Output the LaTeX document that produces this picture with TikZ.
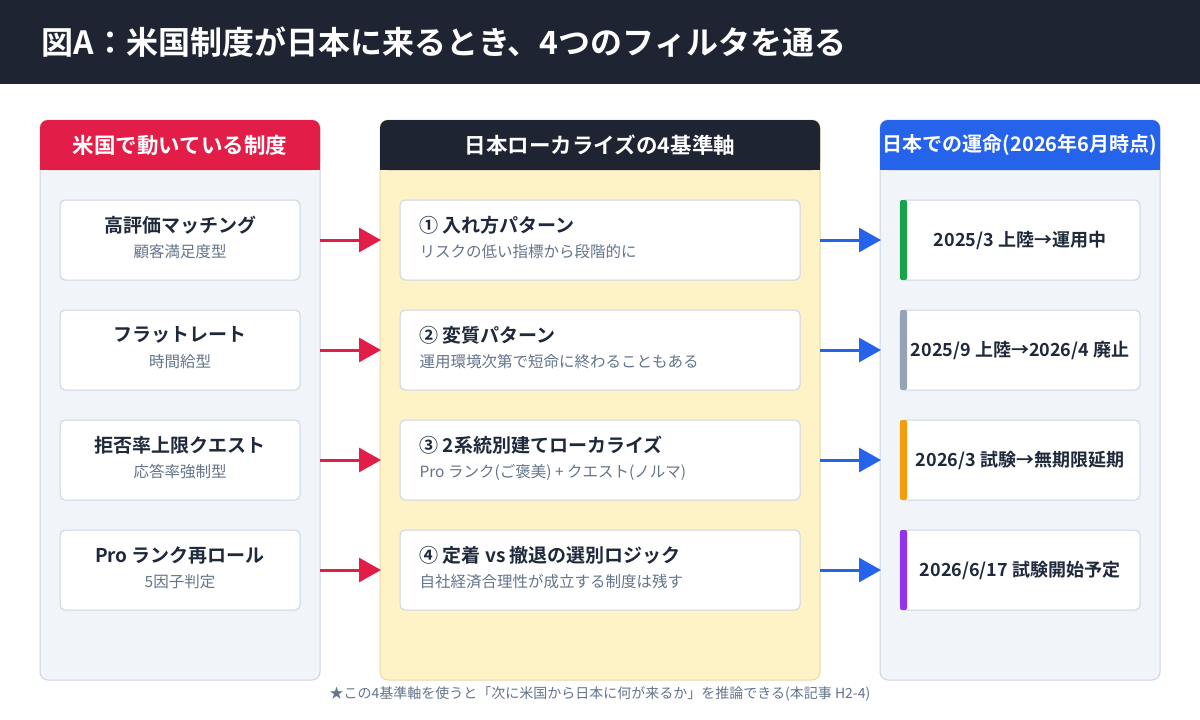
\documentclass[tikz,border=0pt]{standalone}
\usepackage{fontspec}
\setmainfont{Noto Sans CJK JP}[BoldFont={* Bold}]
\usetikzlibrary{arrows.meta}
\definecolor{navy}{HTML}{1F2433}
\definecolor{rd}{HTML}{E11D48}
\definecolor{bl}{HTML}{2563EB}
\definecolor{pbg}{HTML}{F1F5F9}
\definecolor{pbd}{HTML}{CBD5E1}
\definecolor{yel}{HTML}{FEF3C7}
\definecolor{ybd}{HTML}{E7D9A8}
\definecolor{sub}{HTML}{64748B}
\definecolor{ttl}{HTML}{1E293B}
\definecolor{gr}{HTML}{16A34A}
\definecolor{gy}{HTML}{94A3B8}
\definecolor{og}{HTML}{F59E0B}
\definecolor{pu}{HTML}{9333EA}
\begin{document}
\begin{tikzpicture}[x=1pt,y=-1pt,
 card/.style={draw=pbd,fill=white,rounded corners=5pt,line width=1pt},
 ctitle/.style={font=\bfseries\fontsize{19}{21}\selectfont,text=ttl},
 csub/.style={font=\fontsize{15.5}{17}\selectfont,text=sub},
 hdr/.style={font=\bfseries\fontsize{21.5}{24}\selectfont,text=white},
 rarr/.style={draw=rd,line width=3pt,-{Triangle[length=22pt,width=24pt]}},
 barr/.style={draw=bl,line width=3pt,-{Triangle[length=22pt,width=24pt]}}]
\useasboundingbox (0,0) rectangle (1200,720);
\fill[white] (0,0) rectangle (1200,720);
\fill[navy] (0,0) rectangle (1200,84);
\node[anchor=west,text=white,font=\bfseries\fontsize{32}{36}\selectfont] (title) at (38,42) {図A：米国制度が日本に来るとき、4つのフィルタを通る};
% panels
\draw[draw=pbd,fill=pbg,rounded corners=8pt,line width=1pt] (40,120) rectangle (320,680);
\draw[draw=ybd,fill=yel,rounded corners=8pt,line width=1pt] (380,120) rectangle (820,680);
\draw[draw=pbd,fill=pbg,rounded corners=8pt,line width=1pt] (880,120) rectangle (1160,680);
\fill[rd,rounded corners=8pt] (40,120) rectangle (320,170); \fill[rd] (40,150) rectangle (320,170);
\fill[navy,rounded corners=8pt] (380,120) rectangle (820,170); \fill[navy] (380,150) rectangle (820,170);
\fill[bl,rounded corners=8pt] (880,120) rectangle (1160,170); \fill[bl] (880,150) rectangle (1160,170);
\node[hdr] (h1) at (180,145) {米国で動いている制度};
\node[hdr] (h2) at (600,145) {日本ローカライズの4基準軸};
\node[hdr,font=\bfseries\fontsize{20}{22}\selectfont] (h3) at (1020,145) {日本での運命(2026年6月時点)};
% rows
\foreach \i/\y/\lt/\ls/\mt/\ms/\rt/\rc in {
 1/200/高評価マッチング/顧客満足度型/{① 入れ方パターン}/リスクの低い指標から段階的に/{2025/3 上陸→運用中}/gr,
 2/310/フラットレート/時間給型/{② 変質パターン}/運用環境次第で短命に終わることもある/{2025/9 上陸→2026/4 廃止}/gy,
 3/420/拒否率上限クエスト/応答率強制型/{③ 2系統別建てローカライズ}/{Pro ランク(ご褒美) + クエスト(ノルマ)}/{2026/3 試験→無期限延期}/og,
 4/530/Pro ランク再ロール/5因子判定/{④ 定着 vs 撤退の選別ロジック}/自社経済合理性が成立する制度は残す/{2026/6/17 試験開始予定}/pu}{
 \draw[card] (60,\y) rectangle (300,\y+80);
 \node[ctitle] (l\i) at (180,\y+25) {\lt};
 \node[csub] (ls\i) at (180,\y+52) {\ls};
 \draw[card] (400,\y) rectangle (800,\y+80);
 \node[ctitle,anchor=west] (m\i) at (416,\y+25) {\mt};
 \node[csub,anchor=west] (ms\i) at (416,\y+52) {\ms};
 \draw[card] (900,\y) rectangle (1140,\y+80);
 \fill[\rc,rounded corners=2pt] (900,\y) rectangle (907,\y+80);
 \node[ctitle,font=\bfseries\fontsize{18}{20}\selectfont] (r\i) at (1020,\y+40) {\rt};
 \coordinate (a\i) at (320,\y+40); \coordinate (b\i) at (381,\y+40);
 \coordinate (c\i) at (820,\y+40); \coordinate (d\i) at (881,\y+40);
 \draw[rarr] (a\i) -- (b\i);
 \draw[barr] (c\i) -- (d\i);
}
\node[font=\fontsize{14}{16}\selectfont,text=sub] (foot) at (600,694) {★この4基準軸を使うと「次に米国から日本に何が来るか」を推論できる(本記事 H2-4)};
\end{tikzpicture}
\end{document}
